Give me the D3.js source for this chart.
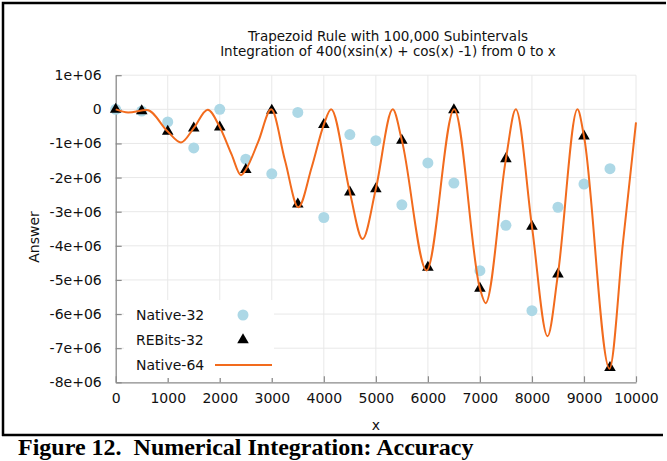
<!DOCTYPE html>
<html><head><meta charset="utf-8">
<script src="https://cdn.jsdelivr.net/npm/d3@7"></script>
<style>
html,body{margin:0;padding:0;background:#fff;}
svg{display:block;}
text{font-family:"DejaVu Sans",sans-serif;}
</style></head>
<body>
<script>
// ---- data ----
const sampleX = [0,500,1000,1500,2000,2500,3000,3500,4000,4500,5000,5500,6000,6500,7000,7500,8000,8500,9000,9500];
const native32 = [0,-0.05e6,-0.37e6,-1.13e6,0,-1.46e6,-1.89e6,-0.09e6,-3.17e6,-0.74e6,-0.92e6,-2.8e6,-1.57e6,-2.16e6,-4.73e6,-3.4e6,-5.9e6,-2.87e6,-2.19e6,-1.74e6];
const rebits32 = [0,-0.05e6,-0.65e6,-0.55e6,-0.52e6,-1.77e6,-0.03e6,-2.78e6,-0.45e6,-2.43e6,-2.33e6,-0.91e6,-4.63e6,-0.02e6,-5.25e6,-1.45e6,-3.43e6,-4.83e6,-0.79e6,-7.57e6];
const native64X = [0,240,600,1000,1255,1500,1768,2000,2229,2408,2500,2742,2990,3254,3510,3767,4000,4140,4500,4745,5000,5325,5500,5975,6505,7000,7110,7500,7690,8000,8300,8500,8875,9000,9490,9750,10000];
const native64Y = [0,-0.09e6,-0.02e6,-0.65e6,-0.97e6,-0.55e6,-0.01e6,-0.52e6,-1.33e6,-1.93e6,-1.77e6,-0.94e6,0,-1.5e6,-2.87e6,-1.7e6,-0.45e6,0,-2.43e6,-3.8e6,-2.33e6,0,-0.91e6,-4.72e6,0,-5.25e6,-5.68e6,-1.45e6,0,-3.43e6,-6.65e6,-4.83e6,0,-0.79e6,-7.6e6,-3.9e6,-0.38e6];
const xTickValues = [0,1000,2000,3000,4000,5000,6000,7000,8000,9000,10000];
const yTickValues = [1e6,0,-1e6,-2e6,-3e6,-4e6,-5e6,-6e6,-7e6,-8e6];
const yTickLabels = ["1e+06","0","-1e+06","-2e+06","-3e+06","-4e+06","-5e+06","-6e+06","-7e+06","-8e+06"];
const titleLines = ["Trapezoid Rule with 100,000 Subintervals","Integration of 400(xsin(x) + cos(x) -1) from 0 to x"];
const seriesNames = ["Native-32","REBits-32","Native-64"];
const caption = "Figure 12.  Numerical Integration: Accuracy";

// ---- layout ----
const W = 667, H = 461;
const L = 115.7, R = 636, T = 75.2, B = 382.3;
const svg = d3.select("body").append("svg").attr("width", W).attr("height", H);

const x = d3.scaleLinear().domain([0,10000]).range([L,R]);
const y = d3.scaleLinear().domain([-8e6,1e6]).range([B,T]);

// frame
svg.append("path").attr("d", `M3,436 L3,3 L666,3`).attr("fill","none").attr("stroke","#000").attr("stroke-width",2.5);
svg.append("line").attr("x1",2).attr("x2",663).attr("y1",435).attr("y2",435).attr("stroke","#000").attr("stroke-width",2.5);

// grid
const grid = svg.append("g").attr("stroke","#e8e8e8").attr("stroke-width",1);
xTickValues.slice(1).forEach(v => grid.append("line").attr("x1",x(v)).attr("x2",x(v)).attr("y1",T).attr("y2",B));
yTickValues.slice(0,-1).forEach(v => grid.append("line").attr("x1",L).attr("x2",R).attr("y1",y(v)).attr("y2",y(v)));

// axes
const xAxis = d3.axisBottom(x).tickValues(xTickValues).tickSizeInner(-6).tickSizeOuter(0).tickPadding(12).tickFormat(d3.format("d"));
const gx = svg.append("g").attr("transform",`translate(0,${B})`).call(xAxis);
const yAxis = d3.axisLeft(y).tickValues(yTickValues).tickSizeInner(-6).tickSizeOuter(0).tickPadding(14).tickFormat((d,i)=>yTickLabels[i]);
const gy = svg.append("g").attr("transform",`translate(${L},0)`).call(yAxis);
[gx,gy].forEach(g=>{
  g.select(".domain").attr("stroke","#8a8a8a").attr("stroke-width",1.3);
  g.selectAll(".tick line").attr("stroke","#8a8a8a").attr("stroke-width",1.2);
  g.selectAll(".tick text").attr("fill","#111").style("font-size","14px").style("font-family","DejaVu Sans");
});
gx.selectAll(".tick text").attr("dy","0.6em");

// labels
svg.append("text").attr("x",(L+R)/2).attr("y",430).attr("text-anchor","middle").style("font-size","14px").attr("fill","#111").text("x");
svg.append("text").attr("transform","translate(39,237) rotate(-90)").attr("text-anchor","middle").style("font-size","14px").attr("fill","#111").text("Answer");
titleLines.forEach((t,i)=>svg.append("text").attr("x",388).attr("y",41+i*15).attr("text-anchor","middle").style("font-size","13.5px").attr("fill","#111").text(t));

// data marks
svg.append("g").selectAll("circle").data(sampleX).join("circle")
  .attr("cx",d=>x(d)).attr("cy",(d,i)=>y(native32[i])).attr("r",5.5).attr("fill","#add8e6");
const tri = d3.symbol(d3.symbolTriangle, 58);
svg.append("g").selectAll("path").data(sampleX).join("path")
  .attr("d",tri).attr("transform",(d,i)=>`translate(${x(d)},${y(rebits32[i])})`).attr("fill","#000");
const line = d3.line().x(d=>x(d[0])).y(d=>y(d[1])).curve(d3.curveMonotoneX);
svg.append("path").datum(native64X.map((v,i)=>[v,native64Y[i]])).attr("d",line)
  .attr("fill","none").attr("stroke","#f26b1d").attr("stroke-width",2);

// legend
const lg = svg.append("g");
lg.append("rect").attr("x",124).attr("y",300).attr("width",150).attr("height",78).attr("fill","#fff");
const ly = [315,340,365];
seriesNames.forEach((n,i)=>lg.append("text").attr("x",136).attr("y",ly[i]).attr("dy","0.35em").style("font-size","14px").attr("fill","#111").text(n));
lg.append("circle").attr("cx",243).attr("cy",ly[0]).attr("r",5.5).attr("fill","#add8e6");
lg.append("path").attr("d",tri).attr("transform",`translate(243,${ly[1]})`).attr("fill","#000");
lg.append("line").attr("x1",215).attr("x2",272).attr("y1",ly[2]).attr("y2",ly[2]).attr("stroke","#f26b1d").attr("stroke-width",2);

// caption
svg.append("text").attr("x",18).attr("y",455).style("font-family","'Liberation Serif',serif").style("font-weight","bold").style("font-size","24px").style("white-space","pre").attr("fill","#000").text(caption);
</script>
</body></html>
